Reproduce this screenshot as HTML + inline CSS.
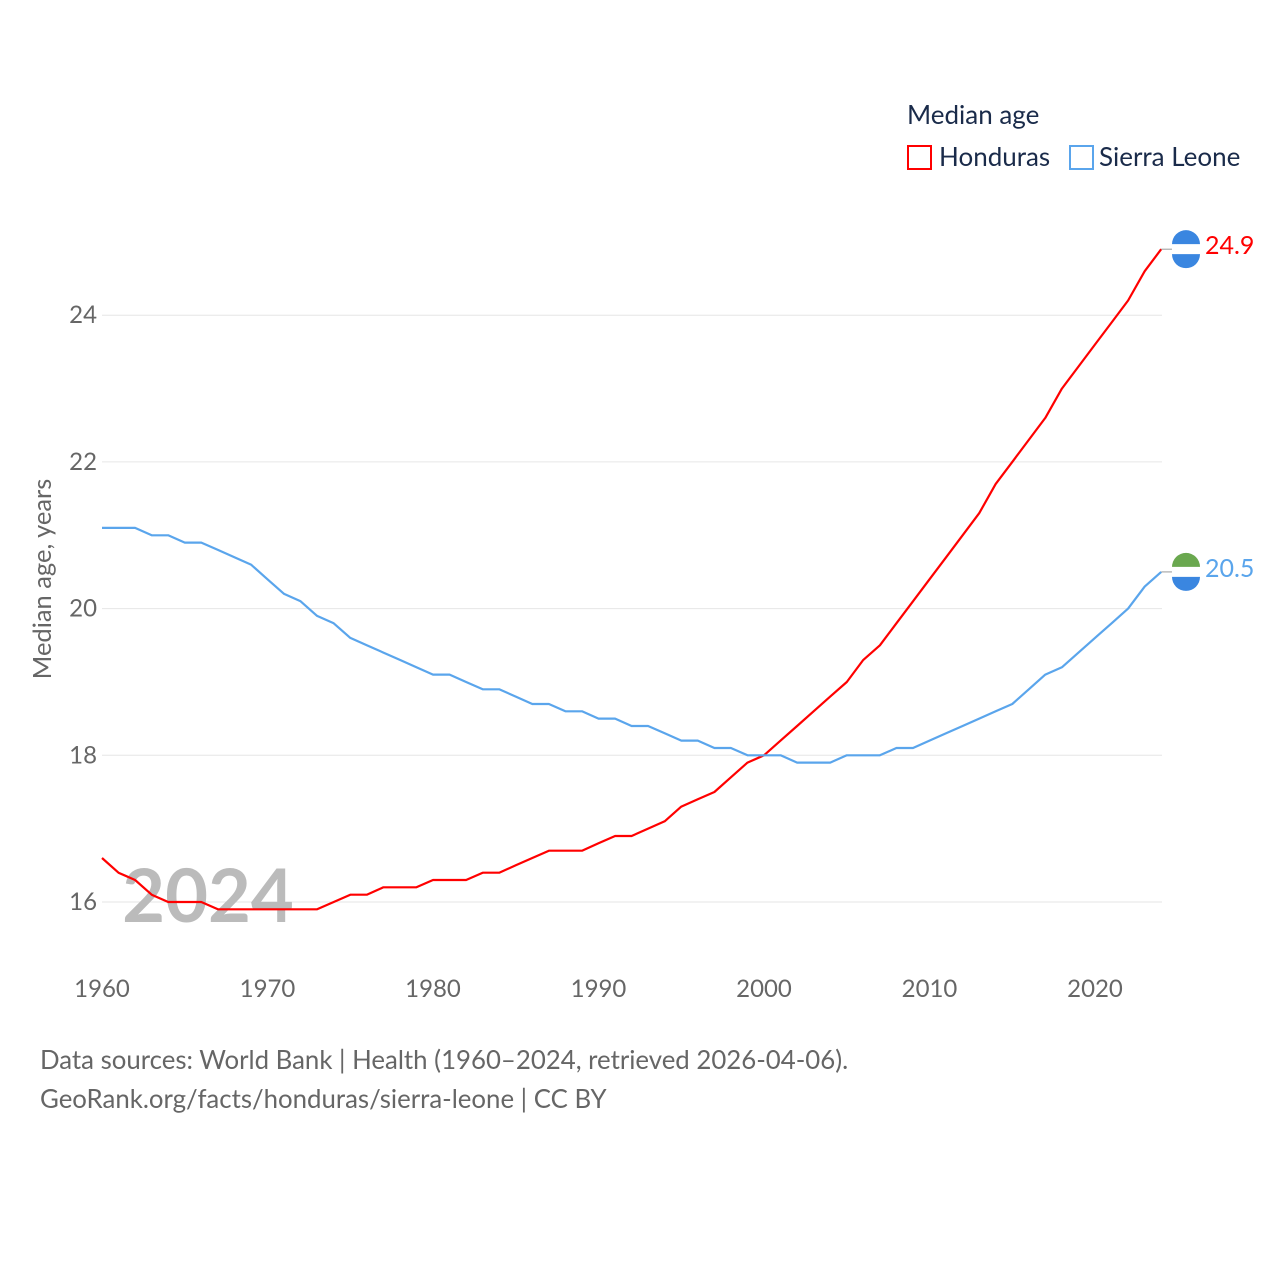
<!DOCTYPE html>
<html><head><meta charset="utf-8"><style>
body{margin:0;background:#fff;font-family:"Liberation Sans",sans-serif}
svg text{font-family:"Lato","Liberation Sans",sans-serif}
</style></head><body>
<svg width="1280" height="1280" xmlns="http://www.w3.org/2000/svg">
<g id="grid"></g>
<text x="208" y="922" font-size="74" font-weight="bold" fill="#bbb" text-anchor="middle">2024</text>
<g id="lines"></g>
<text transform="translate(51,579) rotate(-90)" font-size="25.5" fill="#666" text-anchor="middle">Median age, years</text>
<g>
<text x="907" y="124" font-size="26" fill="#1a2b4a">Median age</text>
<rect x="908" y="146" width="23" height="23" fill="none" stroke="#f00" stroke-width="2"/>
<text x="939" y="166" font-size="26" fill="#1a2b4a">Honduras</text>
<rect x="1070" y="146" width="23" height="23" fill="none" stroke="#5aa5ec" stroke-width="2"/>
<text x="1099" y="166" font-size="26" fill="#1a2b4a">Sierra Leone</text>
</g>
<text x="40" y="1069" font-size="25.8" fill="#666">Data sources: World Bank | Health (1960–2024, retrieved 2026-04-06).</text>
<text x="40" y="1108" font-size="25.8" fill="#666">GeoRank.org/facts/honduras/sierra-leone | CC BY</text>
</svg>
<script>
const years=[];for(let y=1960;y<=2024;y++)years.push(y);
const honduras=[16.6,16.4,16.3,16.1,16.0,16.0,16.0,15.9,15.9,15.9,15.9,15.9,15.9,15.9,16.0,16.1,16.1,16.2,16.2,16.2,16.3,16.3,16.3,16.4,16.4,16.5,16.6,16.7,16.7,16.7,16.8,16.9,16.9,17.0,17.1,17.3,17.4,17.5,17.7,17.9,18.0,18.2,18.4,18.6,18.8,19.0,19.3,19.5,19.8,20.1,20.4,20.7,21.0,21.3,21.7,22.0,22.3,22.6,23.0,23.3,23.6,23.9,24.2,24.6,24.9];
const sierraLeone=[21.1,21.1,21.1,21.0,21.0,20.9,20.9,20.8,20.7,20.6,20.4,20.2,20.1,19.9,19.8,19.6,19.5,19.4,19.3,19.2,19.1,19.1,19.0,18.9,18.9,18.8,18.7,18.7,18.6,18.6,18.5,18.5,18.4,18.4,18.3,18.2,18.2,18.1,18.1,18.0,18.0,18.0,17.9,17.9,17.9,18.0,18.0,18.0,18.1,18.1,18.2,18.3,18.4,18.5,18.6,18.7,18.9,19.1,19.2,19.4,19.6,19.8,20.0,20.3,20.5];
const yTicks=[16,18,20,22,24];
const xTicks=[1960,1970,1980,1990,2000,2010,2020];
const NS="http://www.w3.org/2000/svg";
const xs=y=>102+(y-1960)*16.55;
const ys=v=>902-(v-16)*73.35;
function mk(t,a,p){const e=document.createElementNS(NS,t);for(const k in a)e.setAttribute(k,a[k]);p.appendChild(e);return e;}
const grid=document.getElementById('grid'),lines=document.getElementById('lines');
yTicks.forEach(v=>{
 const l=mk('line',{x1:102,x2:1162,y1:ys(v),y2:ys(v),stroke:'#e6e6e6','stroke-width':1},grid);
 
 
 const t=mk('text',{x:97,y:ys(v)+8,'font-size':24,fill:'#666','text-anchor':'end'},grid);t.textContent=v;
 
 
});
xTicks.forEach(v=>{
 const t=mk('text',{x:xs(v),y:997,'font-size':24,fill:'#666','text-anchor':'middle'},grid);t.textContent=v;
 
 
});
function series(vals,color,name,flagTop,flagBot,label){
 const d=vals.map((v,i)=>(i?'L':'M')+xs(years[i]).toFixed(1)+' '+ys(v).toFixed(1)).join(' ');
 const p=mk('path',{d:d,fill:'none',stroke:color,'stroke-width':2.2,'stroke-linejoin':'round'},lines);
 
 
 const last=vals[vals.length-1],ly=ys(last);
 const c=mk('line',{x1:xs(2024),x2:1172,y1:ly,y2:ly,stroke:'#999','stroke-width':1},lines);
 
 
 const g=mk('g',{},lines);
 
 
 mk('circle',{cx:1186,cy:ly,r:14,fill:'#fff'},g);
 mk('path',{d:`M1172 ${ly-5} A14 14 0 0 1 1200 ${ly-5} Z`,fill:flagTop},g);
 mk('path',{d:`M1172 ${ly+5} A14 14 0 0 0 1200 ${ly+5} Z`,fill:flagBot},g);
 const t=mk('text',{x:1205,y:ly+5,'font-size':25,fill:color},lines);t.textContent=label;
 
 
}
series(honduras,'#ff0000','honduras','#3a86e0','#3a86e0',honduras[honduras.length-1].toFixed(1));
series(sierraLeone,'#5aa5ec','sierra-leone','#6aa84f','#3a86e0',sierraLeone[sierraLeone.length-1].toFixed(1));
</script>
</body></html>
